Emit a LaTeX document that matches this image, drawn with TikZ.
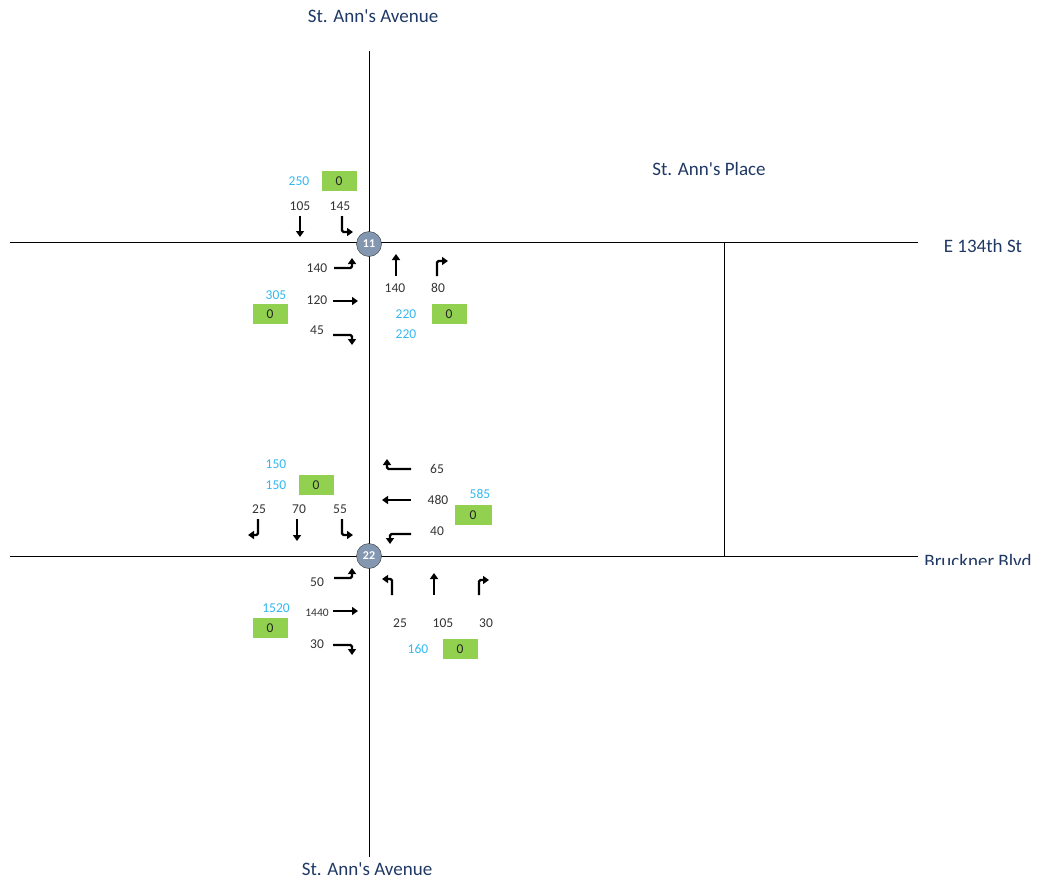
\documentclass[tikz,border=0pt]{standalone}
\usepackage{fontspec}
\setmainfont{Carlito}
\usetikzlibrary{arrows.meta,positioning}
\definecolor{stBlue}{RGB}{31,56,100}
\definecolor{volBlue}{RGB}{51,183,240}
\definecolor{boxGreen}{RGB}{146,208,80}
\definecolor{sigFill}{RGB}{132,151,176}
\tikzset{
  street/.style={text=stBlue, font=\fontsize{19}{22}\selectfont, inner sep=0pt},
  vol/.style={text=black!80, font=\fontsize{13.5}{15}\selectfont, inner sep=0pt},
  volin/.style={text=volBlue, font=\fontsize{13.5}{15}\selectfont, inner sep=0pt},
  zerobox/.style={fill=boxGreen, minimum width=35pt, minimum height=20pt, inner sep=0pt, text=black!85, font=\fontsize{13.5}{15}\selectfont},
  road/.style={line width=1pt},
  mv/.style={line width=2.3pt, rounded corners=1.5pt, -{Triangle[length=6pt,width=8pt]}},
  signal/.style={circle, draw=black!80, fill=sigFill, minimum size=25pt, inner sep=0pt, text=white, font=\bfseries\fontsize{12}{14}\selectfont}
}
\begin{document}
\begin{tikzpicture}[x=1pt,y=-1pt]
    \useasboundingbox (0,0) rectangle (1044,883);

    % road ends
    \coordinate (aveN) at (369,51);
    \coordinate (aveS) at (369,857);
    \coordinate (stW) at (10,242);
    \coordinate (stE) at (918,242);
    \coordinate (bbW) at (10,556);
    \coordinate (bbE) at (918,556);
    \coordinate (plN) at (724,242);
    \coordinate (plS) at (724,556);

    \draw[road] (aveN) -- (aveS);
    \draw[road] (stW) -- (stE);
    \draw[road] (bbW) -- (bbE);
    \draw[road] (plN) -- (plS);

    % street names
    \node[street] (aveNlbl) at (373,16) {St. Ann\textquotesingle s Avenue};
    \node[street] (aveSlbl) at (367,869) {St. Ann\textquotesingle s Avenue};
    \node[street] (pllbl) at (709,169) {St. Ann\textquotesingle s Place};
    \node[street] (stlbl) at (983,246) {E 134th St};
    \begin{scope}
      \clip (900,540) rectangle (1044,564);
      \node[street] (bblbl) at (978,561) {Bruckner Blvd};
    \end{scope}

    % intersection 11 - southbound
    \node[volin] (i11sbin) at (299,181) {250};
    \node[zerobox] (i11sbbox) at (339,181) {0};
    \node[vol] (i11sbt) at (300,206) {105};
    \node[vol] (i11sbr) at (340,206) {145};
    \draw[mv] (300,216) -- (300,237);
    \draw[mv] (342,216) -- (342,232) -- (353,232);

    % intersection 11 - eastbound
    \node[vol] (i11ebl) at (317,268) {140};
    \node[vol] (i11ebt) at (317,300) {120};
    \node[vol] (i11ebr) at (317,330) {45};
    \draw[mv] (334,268) -- (352,268) -- (352,258);
    \draw[mv] (333,301) -- (358,301);
    \draw[mv] (333,335) -- (352,335) -- (352,345);
    \node[volin] (i11ebin) at (276,295) {305};
    \node[zerobox] (i11ebbox) at (270,314) {0};

    % intersection 11 - northbound
    \draw[mv] (396,276) -- (396,254);
    \draw[mv] (437,276) -- (437,261) -- (448,261);
    \node[vol] (i11nbt) at (395,288) {140};
    \node[vol] (i11nbr) at (438,288) {80};
    \node[volin] (i11nbin) at (406,314) {220};
    \node[volin] (i11nbin2) at (406,334) {220};
    \node[zerobox] (i11nbbox) at (449,314) {0};

    % intersection 22 - southbound
    \node[volin] (i22sbin) at (276,464) {150};
    \node[volin] (i22sbin2) at (276,485) {150};
    \node[zerobox] (i22sbbox) at (316,485) {0};
    \node[vol] (i22sbl) at (259,509) {25};
    \node[vol] (i22sbt) at (299,509) {70};
    \node[vol] (i22sbr) at (340,509) {55};
    \draw[mv] (258,519) -- (258,535) -- (248,535);
    \draw[mv] (297,519) -- (297,541);
    \draw[mv] (342,519) -- (342,535) -- (353,535);

    % intersection 22 - westbound
    \draw[mv] (411,469) -- (387,469) -- (387,459);
    \draw[mv] (411,500) -- (382,500);
    \draw[mv] (411,534) -- (390,534) -- (390,544);
    \node[vol] (i22wbl) at (437,469) {65};
    \node[vol] (i22wbt) at (438,500) {480};
    \node[vol] (i22wbr) at (437,531) {40};
    \node[volin] (i22wbin) at (480,494) {585};
    \node[zerobox, minimum width=37pt] (i22wbbox) at (473,515) {0};

    % intersection 22 - eastbound
    \node[vol] (i22ebl) at (317,582) {50};
    \node[vol, font=\fontsize{11.5}{13}\selectfont] (i22ebt) at (317,613) {1440};
    \node[vol] (i22ebr) at (317,644) {30};
    \draw[mv] (334,578) -- (352,578) -- (352,568);
    \draw[mv] (333,611) -- (358,611);
    \draw[mv] (333,645) -- (352,645) -- (352,655);
    \node[volin] (i22ebin) at (276,608) {1520};
    \node[zerobox] (i22ebbox) at (270,628) {0};

    % intersection 22 - northbound
    \draw[mv] (392,595) -- (392,579) -- (382,579);
    \draw[mv] (434,595) -- (434,573);
    \draw[mv] (479,595) -- (479,580) -- (489,580);
    \node[vol] (i22nbl) at (400,623) {25};
    \node[vol] (i22nbt) at (443,623) {105};
    \node[vol] (i22nbr) at (486,623) {30};
    \node[volin] (i22nbin) at (418,649) {160};
    \node[zerobox] (i22nbbox) at (460,649) {0};

    % signals
    \node[signal] (sig11) at (369,244) {11};
    \node[signal] (sig22) at (369,556) {22};
\end{tikzpicture}
\end{document}
